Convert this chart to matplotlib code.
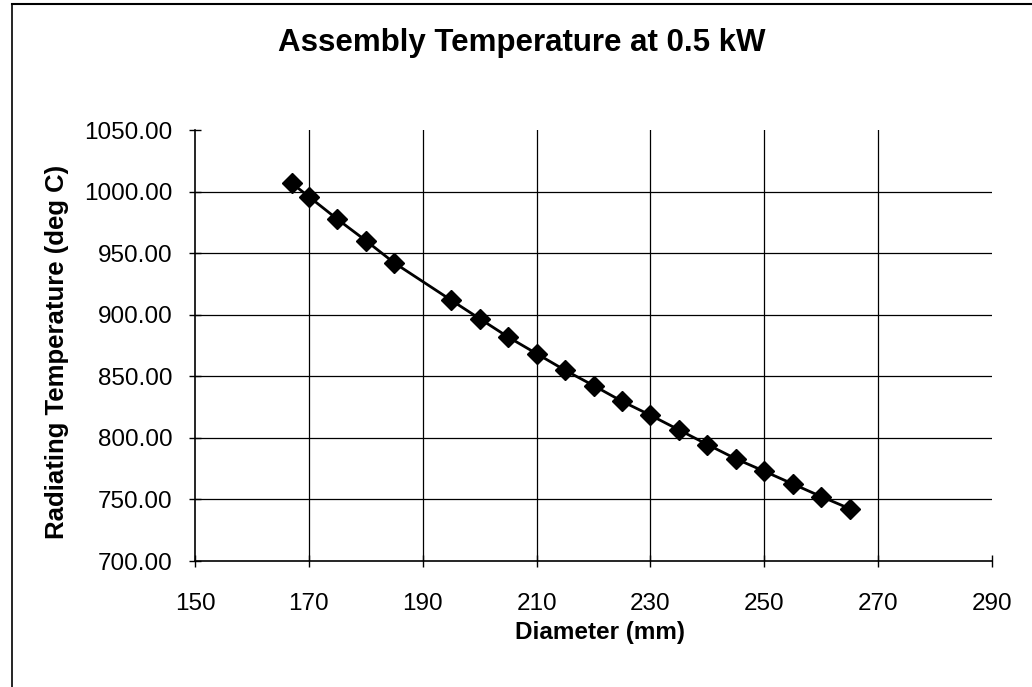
import matplotlib
matplotlib.use("Agg")
import matplotlib.pyplot as plt
from matplotlib.lines import Line2D
from matplotlib.ticker import FormatStrFormatter

# diametro (mm) e temperatura de radiacao (deg C)
diameter = [167, 170, 175, 180, 185, 195, 200, 205, 210, 215,
            220, 225, 230, 235, 240, 245, 250, 255, 260, 265]
temperature = [1006.8, 995.9, 977.6, 960.2, 942.1, 911.8, 896.8, 881.9, 868.4, 854.9,
               842.5, 829.7, 818.4, 806.5, 794.6, 783.0, 772.9, 762.6, 752.3, 742.5]

x_ticks = list(range(150, 291, 20))
y_ticks = list(range(700, 1051, 50))


def main():
    plt.rcParams['font.family'] = ['Liberation Sans', 'DejaVu Sans']
    fig = plt.figure(figsize=(10.32, 6.87), dpi=100)
    ax = fig.add_axes([195 / 1032, 1 - 561 / 687, (992 - 195) / 1032, (561 - 130) / 687])

    ax.plot(diameter, temperature, color="black", linewidth=2.0,
            marker="D", markersize=10.5, markerfacecolor="black", markeredgecolor="black")

    ax.set_xlim(150, 290)
    ax.set_ylim(700, 1050)
    ax.set_xticks(x_ticks)
    ax.set_yticks(y_ticks)
    ax.yaxis.set_major_formatter(FormatStrFormatter("%.2f"))
    ax.tick_params(axis="both", direction="inout", length=8, width=1, labelsize=17.5, colors="black")
    ax.tick_params(axis="x", pad=19)
    ax.tick_params(axis="y", pad=12)

    # grade so nas marcas internas
    ax.grid(True, color="black", linewidth=0.9)
    ax.set_axisbelow(True)
    ax.xaxis.get_gridlines()[0].set_visible(False)
    ax.xaxis.get_gridlines()[-1].set_visible(False)
    ax.yaxis.get_gridlines()[0].set_visible(False)
    ax.yaxis.get_gridlines()[-1].set_visible(False)

    ax.spines["top"].set_visible(False)
    ax.spines["right"].set_visible(False)
    ax.spines["left"].set_linewidth(1.2)
    ax.spines["bottom"].set_linewidth(1.2)

    fig.text(522 / 1032, 1 - 43 / 687, "Assembly Temperature at 0.5 kW",
             fontsize=22.5, fontweight="bold", ha="center", va="center")
    fig.text(600 / 1032, 1 - 633 / 687, "Diameter (mm)",
             fontsize=17.5, fontweight="bold", ha="center", va="center")
    fig.text(57 / 1032, 1 - 352 / 687, "Radiating Temperature (deg C)",
             fontsize=18.5, fontweight="bold", ha="center", va="center", rotation=90)

    # moldura da area do grafico
    fig.add_artist(Line2D([12 / 1032, 12 / 1032], [0, 1 - 4 / 687], color="black", linewidth=1.2))
    fig.add_artist(Line2D([12 / 1032, 1], [1 - 4 / 687, 1 - 4 / 687], color="black", linewidth=1.5))

    fig.savefig("out.png", dpi=100, facecolor="white")


if __name__ == "__main__":
    main()
